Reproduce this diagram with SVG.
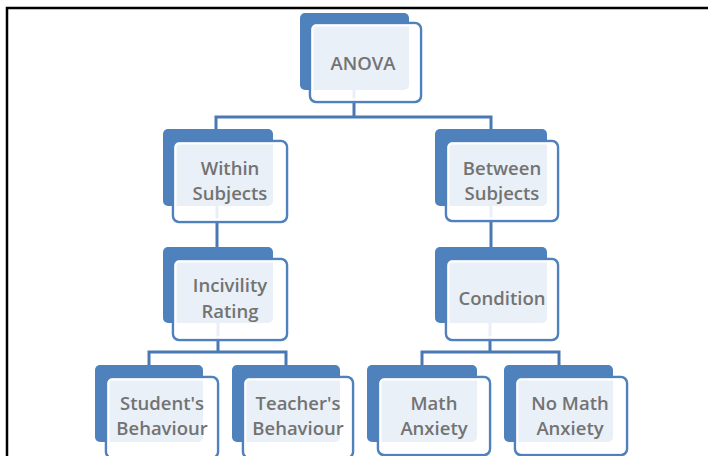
<svg xmlns="http://www.w3.org/2000/svg" width="708" height="456" viewBox="0 0 708 456">
<defs>
<style>
.back{fill:#4f81bd}
.front{fill:#ffffff;fill-opacity:0.88;stroke:#4f81bd;stroke-width:2.5}
.inner{fill:none;stroke:#ffffff;stroke-width:2}
.lbl{font-family:"Open Sans","Liberation Sans",sans-serif;font-size:18.5px;font-weight:600;fill:#737373;text-anchor:middle}
.conn{fill:none;stroke:#4a78b3;stroke-width:3}
</style>
</defs>
<rect width="708" height="456" fill="#ffffff"/>
<path d="M7,456 V8 H708" fill="none" stroke="#000" stroke-width="2.5"/>
<g id="connectors" class="conn">
<path d="M354,88 V117 M216,130 V117 H491 V130"/>
<path d="M217,204 V248"/>
<path d="M491,204 V248"/>
<path d="M218,321 V352 M149,366 V352 H286 V366"/>
<path d="M490,321 V352 M422,366 V352 H559 V366"/>
</g>
<g id="anova">
<rect class="back" x="300" y="13" width="109" height="77" rx="5"/>
<rect class="front" x="310" y="23" width="111" height="79" rx="6"/>
<rect class="inner" x="312.5" y="25.5" width="106" height="74" rx="4"/>
<text class="lbl" x="363" y="70">ANOVA</text>
</g>
<g id="within">
<rect class="back" x="163" y="129" width="110" height="77" rx="5"/>
<rect class="front" x="173" y="141" width="114" height="81" rx="6"/>
<rect class="inner" x="175.5" y="143.5" width="109" height="76" rx="4"/>
<text class="lbl" x="230" y="175">Within</text>
<text class="lbl" x="230" y="200">Subjects</text>
</g>
<g id="between">
<rect class="back" x="435" y="129" width="112" height="77" rx="5"/>
<rect class="front" x="446" y="141" width="112" height="80" rx="6"/>
<rect class="inner" x="448.5" y="143.5" width="107" height="75" rx="4"/>
<text class="lbl" x="502" y="175">Between</text>
<text class="lbl" x="502" y="200">Subjects</text>
</g>
<g id="incivility">
<rect class="back" x="163" y="247" width="110" height="76" rx="5"/>
<rect class="front" x="173" y="259" width="114" height="81" rx="6"/>
<rect class="inner" x="175.5" y="261.5" width="109" height="76" rx="4"/>
<text class="lbl" x="230" y="292">Incivility</text>
<text class="lbl" x="230" y="318">Rating</text>
</g>
<g id="condition">
<rect class="back" x="435" y="247" width="112" height="76" rx="5"/>
<rect class="front" x="446" y="259" width="112" height="81" rx="6"/>
<rect class="inner" x="448.5" y="261.5" width="107" height="76" rx="4"/>
<text class="lbl" x="502" y="305">Condition</text>
</g>
<g id="student">
<rect class="back" x="95" y="365" width="108" height="77" rx="5"/>
<rect class="front" x="106" y="377" width="112" height="81" rx="6"/>
<rect class="inner" x="108.5" y="379.5" width="107" height="76" rx="4"/>
<text class="lbl" x="162" y="410">Student's</text>
<text class="lbl" x="162" y="435">Behaviour</text>
</g>
<g id="teacher">
<rect class="back" x="232" y="365" width="108" height="77" rx="5"/>
<rect class="front" x="243" y="377" width="110" height="81" rx="6"/>
<rect class="inner" x="245.5" y="379.5" width="105" height="76" rx="4"/>
<text class="lbl" x="298" y="410">Teacher's</text>
<text class="lbl" x="298" y="435">Behaviour</text>
</g>
<g id="math">
<rect class="back" x="367" y="365" width="110" height="77" rx="5"/>
<rect class="front" x="378" y="377" width="112" height="78" rx="6"/>
<rect class="inner" x="380.5" y="379.5" width="107" height="73" rx="4"/>
<text class="lbl" x="434" y="410">Math</text>
<text class="lbl" x="434" y="435">Anxiety</text>
</g>
<g id="nomath">
<rect class="back" x="504" y="365" width="109" height="77" rx="5"/>
<rect class="front" x="515" y="377" width="112" height="78" rx="6"/>
<rect class="inner" x="517.5" y="379.5" width="107" height="73" rx="4"/>
<text class="lbl" x="570" y="410">No Math</text>
<text class="lbl" x="570" y="435">Anxiety</text>
</g>
</svg>
